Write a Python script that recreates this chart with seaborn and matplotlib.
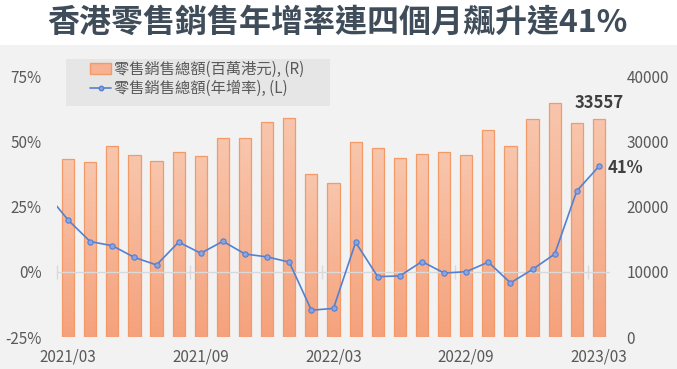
import numpy as np
import seaborn as sns
import matplotlib.pyplot as plt
from matplotlib.colors import LinearSegmentedColormap
from matplotlib.patches import Patch, Rectangle
from matplotlib.lines import Line2D

# 月份 (2021/03 - 2023/03)
months = ['2021/03', '2021/04', '2021/05', '2021/06', '2021/07', '2021/08', '2021/09',
          '2021/10', '2021/11', '2021/12', '2022/01', '2022/02', '2022/03', '2022/04',
          '2022/05', '2022/06', '2022/07', '2022/08', '2022/09', '2022/10', '2022/11',
          '2022/12', '2023/01', '2023/02', '2023/03']
# 零售銷售總額 (百萬港元)
sales = [27430, 26870, 29430, 28000, 27030, 28410, 27900, 30570, 30570, 33130, 33690,
         25130, 23640, 30050, 29030, 27540, 28150, 28410, 28000, 31800, 29380, 33540,
         35950, 32970, 33557]
# 年增率 (%)，由 2021/02 開始（第一點在圖框外）
yoy = [30.4, 20.0, 11.7, 10.1, 5.6, 2.7, 11.5, 7.2, 11.8, 6.9, 5.8, 3.8, -14.7, -14.0,
       11.4, -1.8, -1.5, 4.0, -0.4, 0.1, 3.8, -4.2, 1.0, 6.9, 31.2, 40.6]
yoy_x = np.arange(len(yoy)) - 1
tick_months = ['2021/03', '2021/09', '2022/03', '2022/09', '2023/03']

sns.set_style('white')
plt.rcParams['font.family'] = ['Noto Sans CJK TC', 'DejaVu Sans']

W, H = 677, 369
fig = plt.figure(figsize=(W / 100, H / 100), dpi=100, facecolor='#f2f2f2')
fig.patches.append(Rectangle((0, 1 - 45 / H), 1, 45 / H, transform=fig.transFigure,
                             facecolor='white', edgecolor='none', zorder=0))
fig.text(0.498, 1 - 22 / H, '香港零售銷售年增率連四個月飆升達41%', ha='center', va='center',
         fontsize=23, fontweight='bold', color='#3f4c59')

# 圖例底框
fig.patches.append(Rectangle((66 / W, 1 - 106 / H), 264 / W, 47 / H, transform=fig.transFigure,
                             facecolor='#e6e6e6', edgecolor='none', zorder=0))

ax_bar = fig.add_axes([57 / W, 32 / H, 553 / W, 277 / H])
ax_bar.set_facecolor('none')
ax_line = ax_bar.twinx()

# 柱狀圖 (右軸)
sns.barplot(x=months, y=sales, ax=ax_bar, color='#f6b292', saturation=1, width=0.55)
cmap = LinearSegmentedColormap.from_list('bar', ['#f5a27c', '#f8c6ad'])
grad = np.linspace(0, 1, 256).reshape(-1, 1)
for p in ax_bar.patches:
    bb = p.get_bbox()
    im = ax_bar.imshow(grad, extent=[bb.x0, bb.x1, bb.y0, bb.y1], aspect='auto',
                       origin='lower', cmap=cmap, zorder=1)
    im.set_clip_path(p)
    p.set_facecolor('none')
    p.set_edgecolor('#f29a68')
    p.set_linewidth(0.9)
    p.set_zorder(2)

y_top = 81.5
ax_bar.set_xlim(-0.5, len(months) - 0.5)
ax_bar.set_ylim(0, (y_top + 25) / 100 * 40000)
ax_bar.yaxis.tick_right()
ax_bar.set_yticks([0, 10000, 20000, 30000, 40000])
ax_bar.set_xticks([months.index(m) for m in tick_months])
ax_bar.set_xticklabels(tick_months)
ax_bar.tick_params(axis='both', length=0, labelsize=11, labelcolor='#595959')
ax_bar.tick_params(axis='y', pad=12)
ax_bar.tick_params(axis='x', pad=8)
ax_bar.set_xlabel('')
ax_bar.set_ylabel('')

# 折線圖 (左軸)
ax_line.axhline(0, color='#d9d9d9', lw=1, zorder=1)
sns.lineplot(x=yoy_x, y=yoy, ax=ax_line, color='#5580d0', lw=1.2, marker='o', markersize=3.8,
             markerfacecolor='#8ca4e0', markeredgecolor='#5580d0', markeredgewidth=0.8)
ax_line.set_ylim(-25, y_top)
ax_line.yaxis.tick_left()
ax_line.set_yticks([-25, 0, 25, 50, 75])
ax_line.set_yticklabels(['-25%', '0%', '25%', '50%', '75%'])
ax_line.tick_params(axis='y', length=0, labelsize=11, labelcolor='#595959', pad=11)
ax_line.set_xlim(-0.5, len(months) - 0.5)

# 類別軸刻度 (穿過 0% 線)
sec = ax_line.secondary_xaxis(25 / (y_top + 25))
sec.set_xticks(np.arange(-0.5, len(months), 6))
sec.set_xticklabels([])
sec.tick_params(direction='inout', length=10, color='#d9d9d9', width=1)
sec.spines['bottom'].set_visible(False)
sec.spines['top'].set_visible(False)

for a in (ax_bar, ax_line):
    for s in a.spines.values():
        s.set_visible(False)

ax_bar.annotate(f'{sales[-1]}', (len(months) - 1, sales[-1]), xytext=(0, 11.5),
                textcoords='offset points', ha='center', va='center', fontsize=12,
                fontweight='bold', color='#404040')
ax_line.annotate(f'{round(yoy[-1])}%', (yoy_x[-1], yoy[-1]), xytext=(6, -1),
                 textcoords='offset points', ha='left', va='center', fontsize=12,
                 fontweight='bold', color='#404040')

handles = [Patch(facecolor='#f6b292', edgecolor='#f29a68'),
           Line2D([], [], color='#5580d0', lw=1.2, marker='o', markersize=3.2,
                  markerfacecolor='#8ca4e0', markeredgecolor='#5580d0')]
leg = fig.legend(handles, ['零售銷售總額(百萬港元), (R)', '零售銷售總額(年增率), (L)'],
                 loc='upper left', bbox_to_anchor=(90 / W, 1 - 61 / H), fontsize=11,
                 frameon=False, handlelength=1.4, handletextpad=0.15,
                 borderpad=0, labelspacing=0.15, borderaxespad=0)
for t in leg.get_texts():
    t.set_color('#595959')

plt.savefig('out.png', dpi=100, facecolor=fig.get_facecolor())
